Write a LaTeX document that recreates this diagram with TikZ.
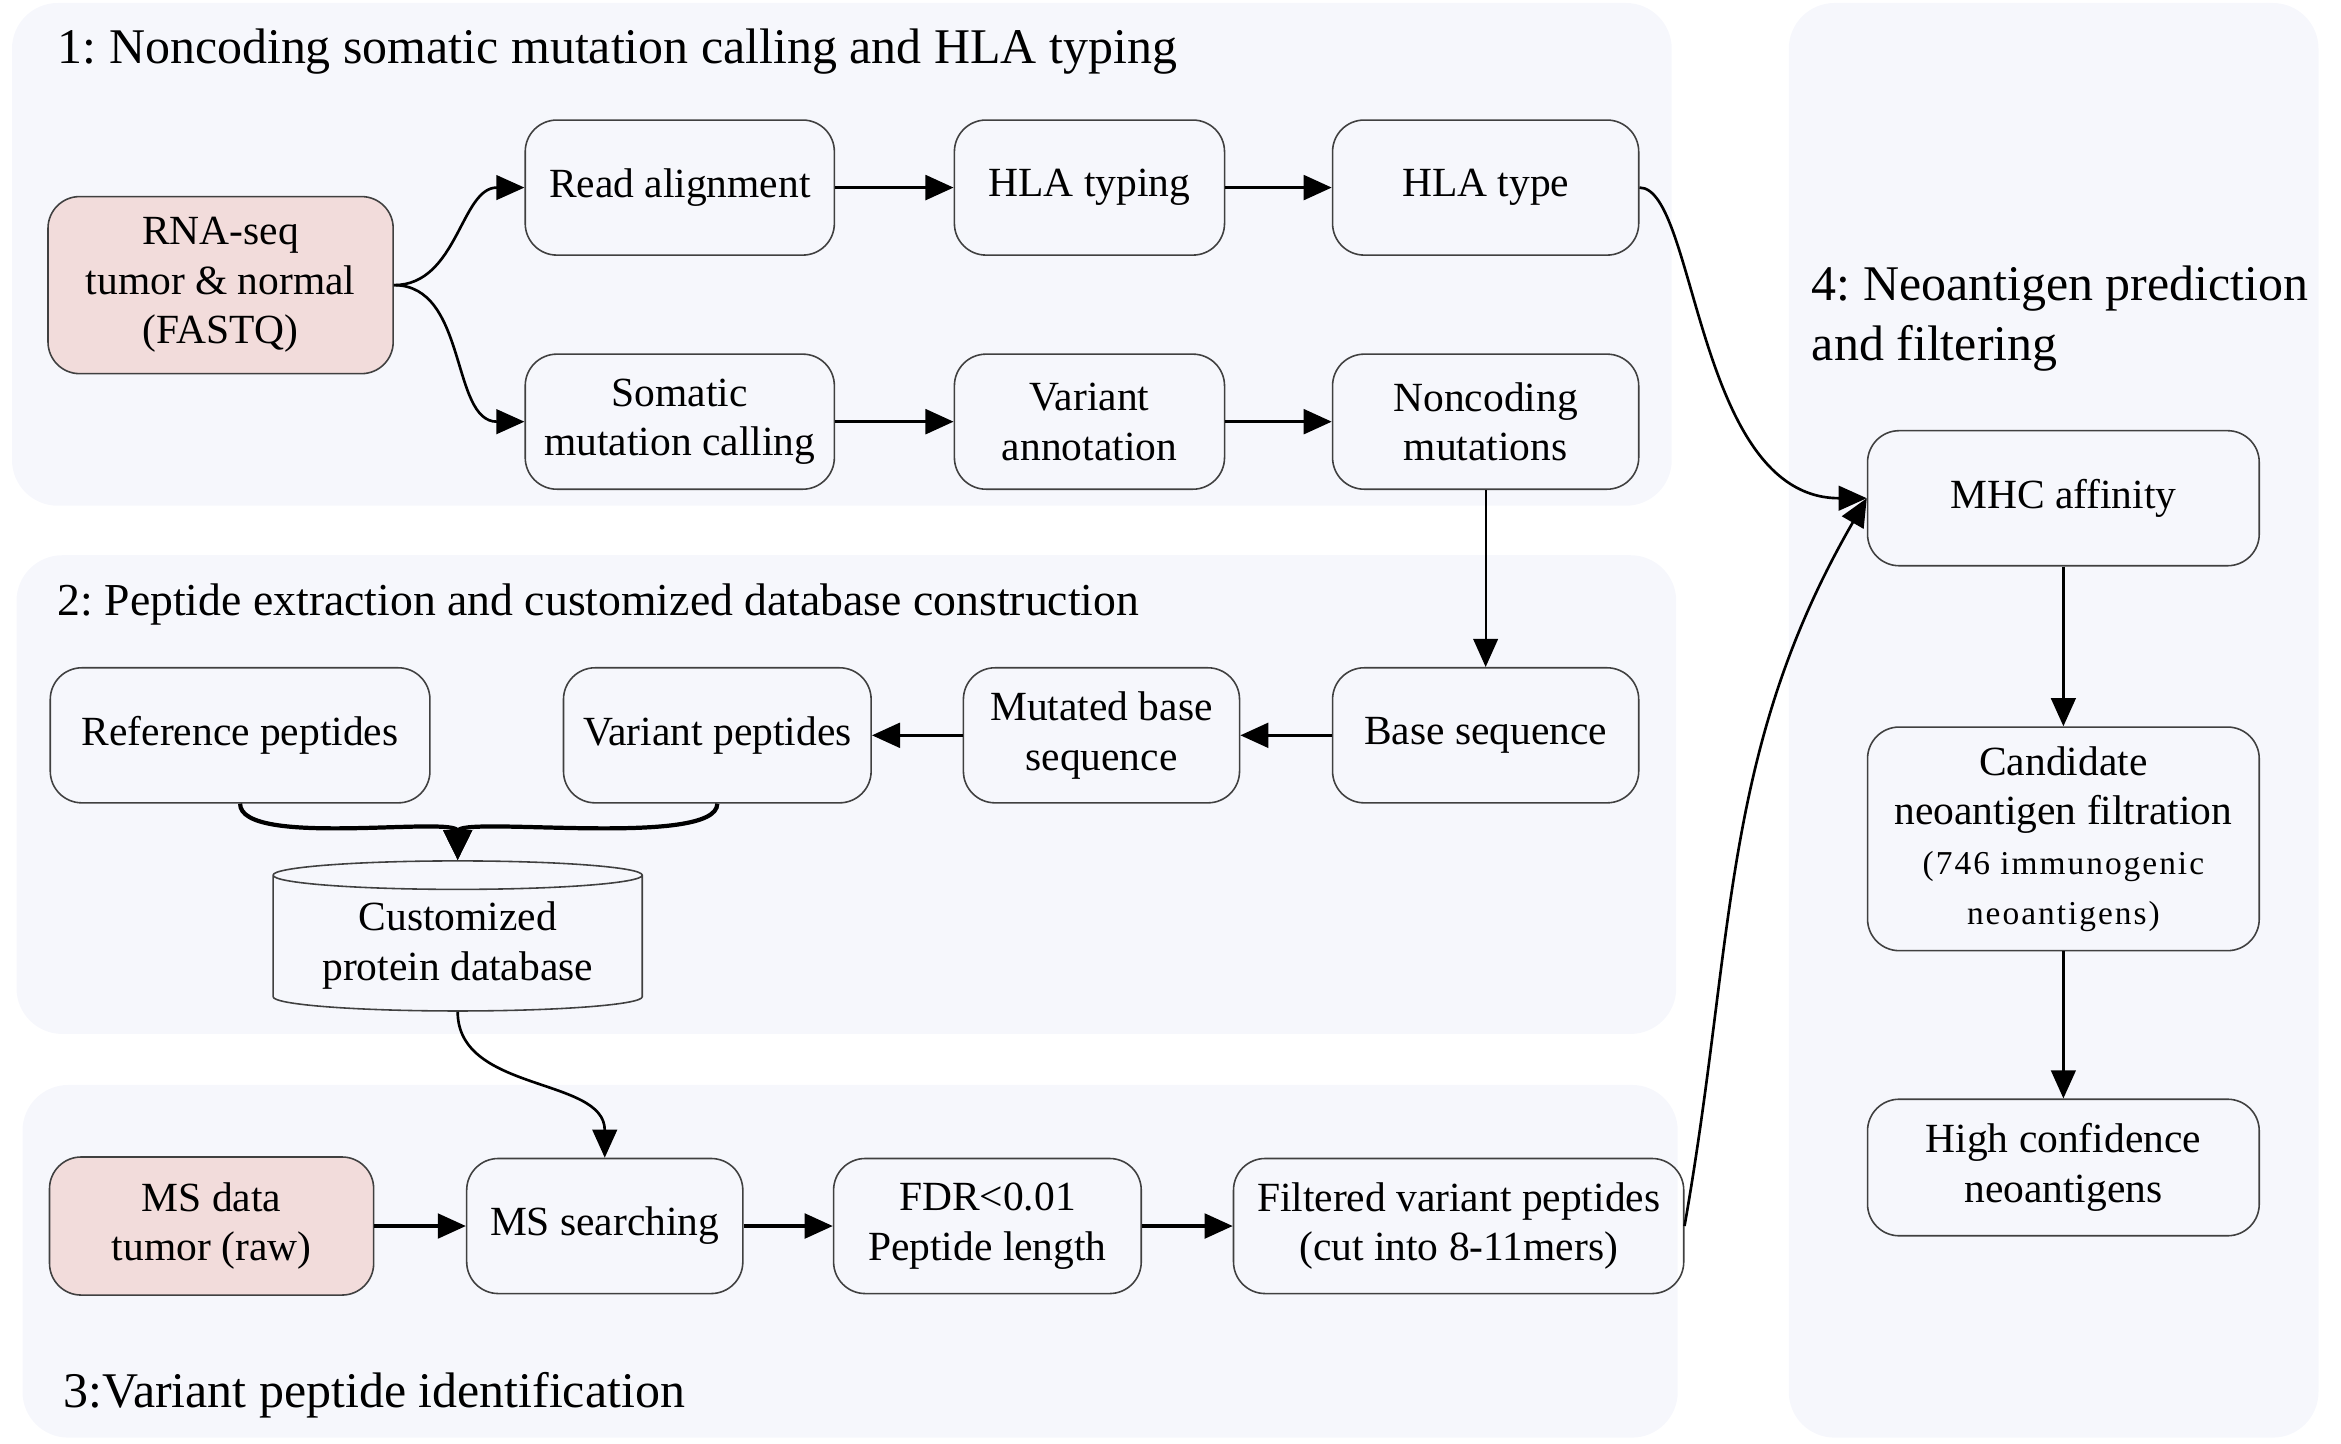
\documentclass[tikz,border=0pt]{standalone}
\usepackage{fontspec}
\setmainfont{Liberation Serif}
\usetikzlibrary{shapes.geometric,arrows.meta,positioning}
\definecolor{panelfill}{HTML}{F6F7FC}
\definecolor{inputpink}{HTML}{F2DCDB}
\definecolor{boxline}{HTML}{404040}
\newcommand{\smallnote}{\fontsize{9.5}{13.7}\selectfont\addfontfeature{LetterSpace=6}}
\frenchspacing

\begin{document}
\begin{tikzpicture}[x=0.15mm, y=0.15mm,
    stage/.style={draw=boxline, line width=0.45pt, rounded corners=9pt, align=center,
        inner sep=2pt, minimum height=13.5mm, font=\fontsize{11.8}{14.1}\selectfont},
    datain/.style={stage, fill=inputpink},
    database/.style={cylinder, shape border rotate=90, aspect=0.1, draw=boxline,
        line width=0.45pt, align=center, inner sep=2pt, minimum width=36.9mm,
        minimum height=15mm, font=\fontsize{11.8}{14.1}\selectfont},
    linkarrow/.style={-{Triangle[length=8pt,width=7pt]}, line width=1pt},
    curvelink/.style={-{Triangle[length=8pt,width=7pt]}, line width=0.75pt},
    thinlink/.style={-{Triangle[length=8pt,width=7pt]}, line width=0.6pt},
    mergelink/.style={-{Triangle[length=8.5pt,width=8pt]}, line width=1.2pt},
    paneltitle/.style={anchor=base west, inner sep=0pt, font=\fontsize{14.2}{17}\selectfont}]

    \useasboundingbox (0,0) rectangle (1560,-962);

    % the four panels
    \fill[panelfill, rounded corners=13pt] (8,-2) rectangle (1114,-337);
    \fill[panelfill, rounded corners=13pt] (11,-370) rectangle (1117,-689);
    \fill[panelfill, rounded corners=13pt] (15,-723) rectangle (1118,-958);
    \fill[panelfill, rounded corners=13pt] (1192,-2) rectangle (1545,-958);

    \node[paneltitle] (title1) at (38,-42) {1: Noncoding somatic mutation calling and HLA typing};
    \node[paneltitle, font=\fontsize{13}{16}\selectfont] (title2) at (38,-410) {2: Peptide extraction and customized database construction};
    \node[paneltitle] (title3) at (42,-938) {3:Variant peptide identification};
    \node[paneltitle, align=left] (title4) at (1207,-240) {4: Neoantigen prediction\\and filtering};

    % 1: calling and typing
    \node[datain, minimum width=34.5mm, minimum height=17.7mm] (rna) at (147,-190) {RNA-seq\\tumor \& normal\\(FASTQ)};
    \node[stage, minimum width=30.9mm] (align) at (453,-125) {Read alignment};
    \node[stage, minimum width=27mm] (hlatyping) at (726,-125) {HLA typing};
    \node[stage, minimum width=30.6mm] (hlatype) at (990,-125) {HLA type};
    \node[stage, minimum width=30.9mm] (somatic) at (453,-281) {Somatic\\mutation calling};
    \node[stage, minimum width=27mm] (annot) at (726,-281) {Variant\\annotation};
    \node[stage, minimum width=30.6mm] (noncoding) at (990,-281) {Noncoding\\mutations};

    % 2: peptides and database
    \node[stage, minimum width=37.95mm] (refpep) at (160,-490) {Reference peptides};
    \node[stage, minimum width=30.75mm] (varpep) at (478,-490) {Variant peptides};
    \node[stage, minimum width=27.6mm] (mutbase) at (734,-490) {Mutated base\\sequence};
    \node[stage, minimum width=30.6mm] (baseseq) at (990,-490) {Base sequence};
    \node[database] (protdb) at (305,-630) {Customized\\protein database};

    % 3: identification
    \node[datain, minimum width=32.4mm, minimum height=13.8mm] (msdata) at (141,-817) {MS data\\tumor (raw)};
    \node[stage, minimum width=27.6mm] (mssearch) at (403,-817) {MS searching};
    \node[stage, minimum width=30.75mm] (fdr) at (658,-817) {FDR<0.01\\Peptide length};
    \node[stage, minimum width=45mm] (filtered) at (972,-817) {Filtered variant peptides\\(cut into 8-11mers)};

    % 4: prediction
    \node[stage, minimum width=39.15mm] (mhc) at (1375,-332) {MHC affinity};
    \node[stage, minimum width=39.15mm, minimum height=22.35mm] (candidate) at (1375,-559)
        {Candidate\\neoantigen filtration\\{\smallnote (746 immunogenic}\\{\smallnote neoantigens)}};
    \node[stage, minimum width=39.15mm, minimum height=13.65mm] (highconf) at (1375,-778) {High confidence\\neoantigens};

    \draw[curvelink] (rna.east) to[out=0,in=180] (align.west);
    \draw[curvelink] (rna.east) to[out=0,in=180] (somatic.west);
    \draw[linkarrow] (align) -- (hlatyping);
    \draw[linkarrow] (hlatyping) -- (hlatype);
    \draw[linkarrow] (somatic) -- (annot);
    \draw[linkarrow] (annot) -- (noncoding);
    \draw[curvelink] (hlatype.east) .. controls +(38,0) and +(-114,0) .. (mhc.west);

    \draw[thinlink] (noncoding) -- (baseseq);
    \draw[linkarrow] (baseseq) -- (mutbase);
    \draw[linkarrow] (mutbase) -- (varpep);
    \draw[mergelink] (refpep.south) .. controls +(0,-30) and +(0,30) .. (protdb.north);
    \draw[mergelink] (varpep.south) .. controls +(0,-30) and +(0,30) .. (protdb.north);
    \draw[curvelink] (protdb.south) to[out=-90,in=90] (mssearch.north);

    \draw[linkarrow] (msdata) -- (mssearch);
    \draw[linkarrow] (mssearch) -- (fdr);
    \draw[linkarrow] (fdr) -- (filtered);
    \draw[curvelink] (filtered.east) to[out=80,in=240] (mhc.west);

    \draw[curvelink] (mhc) -- (candidate);
    \draw[curvelink] (candidate) -- (highconf);

\end{tikzpicture}
\end{document}
